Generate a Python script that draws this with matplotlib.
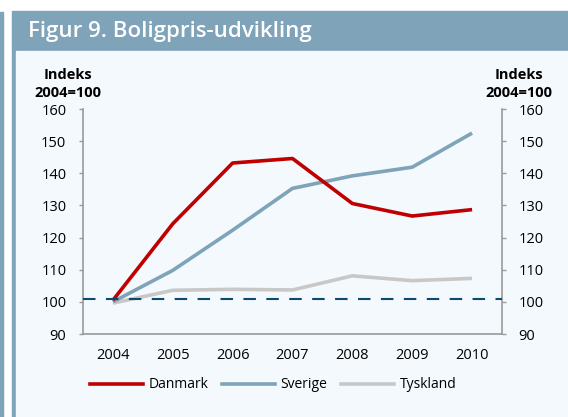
import matplotlib.pyplot as plt
from matplotlib.patches import Rectangle
from matplotlib.lines import Line2D

years = ["2004", "2005", "2006", "2007", "2008", "2009", "2010"]
danmark = [100.5, 124.3, 143.2, 144.6, 130.6, 126.7, 128.7]
sverige = [100.0, 109.8, 122.3, 135.3, 139.2, 141.9, 152.5]
tyskland = [99.6, 103.6, 103.9, 103.7, 108.1, 106.6, 107.3]
base_line = 101

W, H = 568, 417
fig = plt.figure(figsize=(W / 100, H / 100), dpi=100, facecolor="white")
plt.rcParams["font.family"] = ["Open Sans", "DejaVu Sans"]

frame = "#7fa3b8"
panel = "#f4f9fd"


def px_rect(x0, y0, x1, y1, color):
    fig.patches.append(Rectangle((x0 / W, 1 - y1 / H), (x1 - x0) / W, (y1 - y0) / H,
                                 transform=fig.transFigure, color=color, zorder=-10))


px_rect(0, 12, 3, H, frame)
px_rect(12, 11, W, H, frame)
px_rect(16, 51, W, H, panel)

fig.text(28 / W, 1 - 32 / H, "Figur 9. Boligpris-udvikling", color="white",
         fontsize=16, fontweight="semibold", va="center", ha="left")

ax = fig.add_axes([83 / W, 1 - 334 / H, (502 - 83) / W, (334 - 109) / H])
ax.set_zorder(1)
ax.set_facecolor(panel)

x = range(len(years))
ax.plot(x, tyskland, color="#c8c8c8", lw=2.6, solid_capstyle="butt", zorder=3)
ax.plot(x, sverige, color=frame, lw=2.6, solid_capstyle="butt", zorder=4)
ax.plot(x, danmark, color="#c00000", lw=2.6, solid_capstyle="butt", zorder=5)
ax.axhline(base_line, color="#0d4a70", lw=1.5, dashes=(6, 5), zorder=6)

ax.set_xlim(-0.5, len(years) - 0.5)
ax.set_ylim(90, 160)
ax.set_xticks(list(x))
ax.set_xticklabels(years)
ax.set_yticks(range(90, 161, 10))

ax.spines["top"].set_visible(False)
for s in ["left", "right", "bottom"]:
    ax.spines[s].set_color("#999999")
    ax.spines[s].set_linewidth(1.2)

ax.tick_params(axis="y", which="both", left=True, right=True, labelleft=True,
               labelright=True, length=3, width=1, color="#999999",
               labelsize=10.5, pad=9)
ax.tick_params(axis="x", length=0, labelsize=10.5, pad=10)

for xc in (68, 519):
    fig.text(xc / W, 1 - 84 / H, "Indeks\n2004=100", ha="center", va="center",
             fontsize=10.5, fontweight="bold", linespacing=1.35)

handles = [Line2D([], [], color="#c00000", lw=2.6),
           Line2D([], [], color=frame, lw=2.6),
           Line2D([], [], color="#c8c8c8", lw=2.6)]
fig.legend(handles, ["Danmark", "Sverige", "Tyskland"], loc="center",
           bbox_to_anchor=(273 / W, 1 - 385 / H), ncol=3, frameon=False,
           fontsize=10, handlelength=3.8, handletextpad=0.4, columnspacing=1.0)

fig.savefig("out.png", dpi=100, facecolor=fig.get_facecolor())
